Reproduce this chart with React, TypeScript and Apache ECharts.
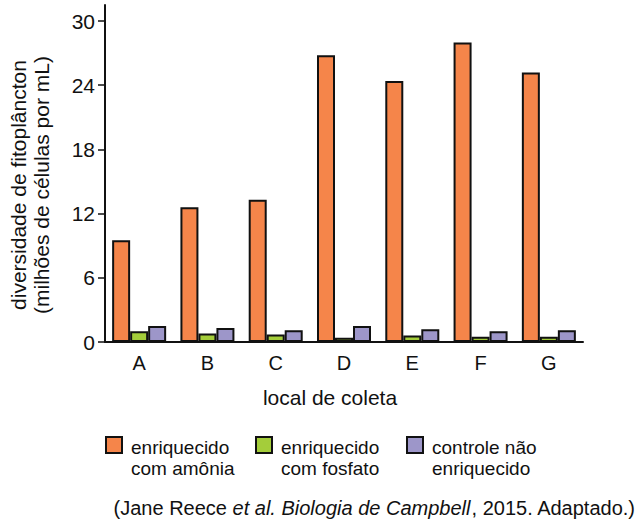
import React, { useEffect, useRef } from "react";
import * as echarts from "echarts";

const categories = ["A", "B", "C", "D", "E", "F", "G"];
const seriesNames = ["enriquecido\ncom amônia", "enriquecido\ncom fosfato", "controle não\nenriquecido"];
const amonia = [9.5, 12.6, 13.3, 26.8, 24.4, 28.0, 25.2];
const fosfato = [1.0, 0.8, 0.7, 0.4, 0.6, 0.5, 0.5];
const controle = [1.5, 1.3, 1.1, 1.5, 1.2, 1.0, 1.1];
const yTicks = [0, 6, 12, 18, 24, 30];
const colors = ["#F5854A", "#A4CD3A", "#9D96C9"];

export default function App() {
  const ref = useRef<HTMLDivElement>(null);
  useEffect(() => {
    const chart = echarts.init(ref.current!, null, { renderer: "svg" });
    const font = "'Liberation Sans', Arial, sans-serif";
    const values = [amonia, fosfato, controle];
    const legendX = [106, 256, 407];
    const legendGraphics: any[] = [];
    seriesNames.forEach((n, i) => {
      legendGraphics.push({
        type: "rect",
        shape: { x: legendX[i], y: 437, width: 16, height: 16 },
        style: { fill: colors[i], stroke: "#111", lineWidth: 2 },
      });
      legendGraphics.push({
        type: "text",
        x: legendX[i] + 25,
        y: 458,
        style: {
          text: n,
          font: `19px ${font}`,
          fill: "#111",
          textAlign: "left",
          textVerticalAlign: "middle",
          lineHeight: 21,
        },
      });
    });
    chart.setOption({
      animation: false,
      grid: { left: 105, top: 5, width: 478, height: 337, containLabel: false },
      xAxis: {
        type: "category",
        data: categories,
        axisLine: { lineStyle: { color: "#111", width: 2 } },
        axisTick: { alignWithLabel: true, length: 7, lineStyle: { color: "#111", width: 1.5 } },
        axisLabel: { color: "#111", fontSize: 20, fontFamily: font, margin: 11 },
      },
      yAxis: {
        type: "value",
        min: 0,
        max: 31.5,
        axisLine: { show: true, lineStyle: { color: "#111", width: 2 } },
        axisTick: { show: true, length: 7, customValues: yTicks, lineStyle: { color: "#111", width: 1.5 } },
        axisLabel: { color: "#111", fontSize: 21, fontFamily: font, margin: 10, customValues: yTicks },
        splitLine: { show: false },
      },
      series: values.map((v, i) => ({
        type: "bar",
        name: seriesNames[i],
        data: v,
        barWidth: 18,
        barGap: "0%",
        itemStyle: { color: colors[i], borderColor: "#111", borderWidth: 2 },
      })),
      graphic: [
        {
          type: "text",
          x: 30,
          y: 185,
          rotation: Math.PI / 2,
          style: {
            text: "diversidade de fitoplâncton\n(milhões de células por mL)",
            font: `21px ${font}`,
            fill: "#111",
            textAlign: "center",
            textVerticalAlign: "middle",
            lineHeight: 23,
          },
        },
        {
          type: "text",
          x: 330,
          y: 397,
          style: {
            text: "local de coleta",
            font: `21px ${font}`,
            fill: "#111",
            textAlign: "center",
            textVerticalAlign: "middle",
          },
        },
        ...legendGraphics,
        {
          type: "text",
          x: 635,
          y: 508,
          style: {
            text: "(Jane Reece {i|et al. Biologia de Campbell}, 2015. Adaptado.)",
            font: `20px ${font}`,
            fill: "#111",
            textAlign: "right",
            textVerticalAlign: "middle",
            rich: { i: { fontStyle: "italic", fontSize: 20, fontFamily: font, fill: "#111" } },
          },
        },
      ],
    });
    return () => chart.dispose();
  }, []);
  return (
    <div
      ref={ref}
      style={{ position: "fixed", left: 0, top: 0, width: 636, height: 522, background: "#fff" }}
    />
  );
}
